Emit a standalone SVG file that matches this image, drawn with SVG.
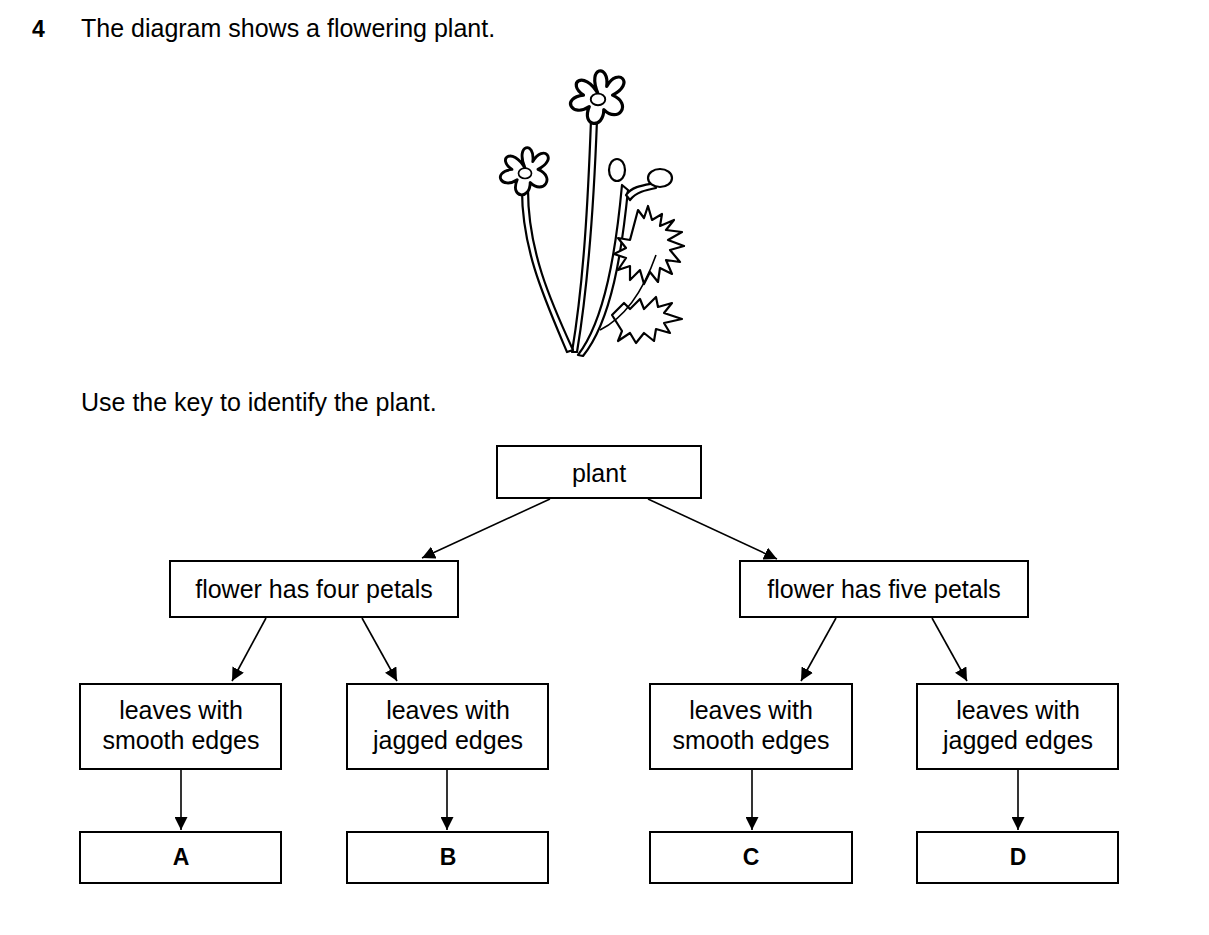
<svg xmlns="http://www.w3.org/2000/svg" width="1209" height="935" viewBox="0 0 1209 935">
<style>
text{font-family:"Liberation Sans",Arial,sans-serif;font-size:25px;fill:#000}
.c{text-anchor:middle}
.b{font-weight:bold;font-size:23px}
rect{fill:#fff;stroke:#000;stroke-width:2}
.ln{stroke:#000;stroke-width:1.6;fill:none}
.p{fill:#fff;stroke:#000;stroke-width:2.2;stroke-linejoin:round}
</style>
<defs><marker id="ah" viewBox="0 0 10 10" refX="10" refY="5" markerWidth="13" markerHeight="13" markerUnits="userSpaceOnUse" orient="auto"><path d="M0,0L10,5L0,10z" fill="#000"/></marker>
<g id="fl"><path class="p" stroke-width="1.6" d="M0,-3C-8,-22 8,-24 6,-8C14,-22 26,-10 10,-2C24,4 14,18 4,8C4,22 -12,20 -6,6C-18,14 -26,0 -10,-2C-22,-10 -10,-20 0,-3Z"/><ellipse cx="0" cy="1" rx="5" ry="4" fill="#fff" stroke="#000" stroke-width="1.3"/></g></defs>
<text x="32" y="37" class="b">4</text>
<text x="81" y="37">The diagram shows a flowering plant.</text>
<g id="plant">
<path class="p" d="M591,120C588,200 584,280 572,352L577,352C589,280 594,200 597,120Z"/>
<path class="p" d="M522,190C522,250 545,300 567,352L573,350C550,300 528,250 528,190Z"/>
<path class="p" d="M622,185C616,250 605,320 578,355L583,356C612,320 622,250 628,190Z"/>
<path class="p" d="M626,195C632,186 645,185 655,183L656,188C646,190 636,192 630,200Z"/>
<path class="p" d="M638,210l6,8 4,-12 4,14 10,-6 -2,12 14,-6 -8,10 16,2 -14,8 16,6 -14,4 10,12 -14,-2 6,14 -12,-6 -2,14 -8,-10 -6,12 -4,-14 -10,10 0,-14 -12,4 8,-12 -12,-4 12,-6 -8,-10 12,2z"/>
<path class="p" d="M612,315l12,-12 6,6 10,-10 4,10 12,-12 2,10 14,-4 -8,10 18,6 -18,4 6,10 -14,-4 -2,12 -10,-8 -8,10 -6,-10 -12,8 4,-10z"/>
<path class="ln" d="M600,330C620,320 640,300 656,255"/>
<use href="#fl" transform="translate(598,98) scale(1.45)"/>
<use href="#fl" transform="translate(525,172) scale(1.3)"/>
<ellipse class="p" cx="617" cy="170" rx="8" ry="11"/>
<ellipse class="p" cx="660" cy="178" rx="12" ry="9"/>
</g>
<text x="81" y="411">Use the key to identify the plant.</text>
<g id="connectors" class="ln" marker-end="url(#ah)">
<line x1="550" y1="499" x2="422" y2="558"/>
<line x1="648" y1="499" x2="777" y2="559"/>
<line x1="266" y1="618" x2="232" y2="681"/>
<line x1="362" y1="618" x2="397" y2="681"/>
<line x1="836" y1="618" x2="801" y2="681"/>
<line x1="932" y1="618" x2="967" y2="681"/>
<line x1="181" y1="770" x2="181" y2="830"/>
<line x1="447" y1="770" x2="447" y2="830"/>
<line x1="752" y1="770" x2="752" y2="830"/>
<line x1="1018" y1="770" x2="1018" y2="830"/>
</g>
<g id="n-plant"><rect x="497" y="446" width="204" height="52"/><text x="599" y="482" class="c">plant</text></g>
<g id="n-four"><rect x="170" y="561" width="288" height="56"/><text x="314" y="598" class="c">flower has four petals</text></g>
<g id="n-five"><rect x="740" y="561" width="288" height="56"/><text x="884" y="598" class="c">flower has five petals</text></g>
<g id="n-s1"><rect x="80" y="684" width="201" height="85"/><text x="181" y="719" class="c">leaves with</text><text x="181" y="749" class="c">smooth edges</text></g>
<g id="n-j1"><rect x="347" y="684" width="201" height="85"/><text x="448" y="719" class="c">leaves with</text><text x="448" y="749" class="c">jagged edges</text></g>
<g id="n-s2"><rect x="650" y="684" width="202" height="85"/><text x="751" y="719" class="c">leaves with</text><text x="751" y="749" class="c">smooth edges</text></g>
<g id="n-j2"><rect x="917" y="684" width="201" height="85"/><text x="1018" y="719" class="c">leaves with</text><text x="1018" y="749" class="c">jagged edges</text></g>
<g id="n-A"><rect x="80" y="832" width="201" height="51"/><text x="181" y="865" class="c b">A</text></g>
<g id="n-B"><rect x="347" y="832" width="201" height="51"/><text x="448" y="865" class="c b">B</text></g>
<g id="n-C"><rect x="650" y="832" width="202" height="51"/><text x="751" y="865" class="c b">C</text></g>
<g id="n-D"><rect x="917" y="832" width="201" height="51"/><text x="1018" y="865" class="c b">D</text></g>
</svg>
